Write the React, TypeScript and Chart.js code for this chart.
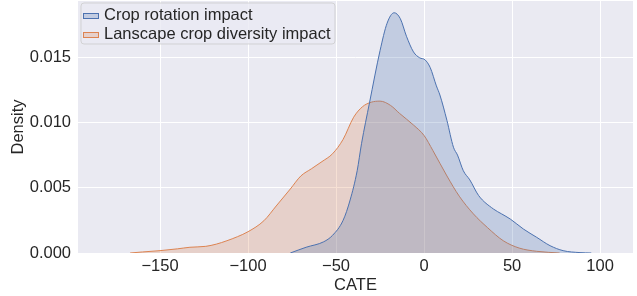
import React, { useEffect, useRef } from 'react';
import { Chart, registerables } from 'chart.js';

Chart.register(...registerables);

// Crop rotation impact (KDE density)
const rotationX = [-76, -67, -57, -52, -46, -42, -38, -35.5, -31, -25, -21, -17, -13.5, -10, -6, -2.5, 0.5, 3.5, 7, 9, 13, 16.7, 19, 22.3, 26, 31, 39.4, 44, 49, 56.4, 64, 71.6, 79, 88.6, 95];
const rotationY = [0, 0.00044, 0.00086, 0.00135, 0.0025, 0.00406, 0.0063, 0.0084, 0.0115, 0.0155, 0.0176, 0.0184, 0.01795, 0.0166, 0.0154, 0.01495, 0.0148, 0.0142, 0.0128, 0.0121, 0.01015, 0.0081, 0.0075, 0.0063, 0.0056, 0.0044, 0.00337, 0.003, 0.0026, 0.00184, 0.0012, 0.00056, 0.00018, 0.00003, 0];

// Lanscape crop diversity impact
const diversityX = [-167, -160, -150, -140, -133, -124, -118, -112, -106, -100, -91, -84, -76, -70, -64, -58, -52, -46, -40, -35, -30, -25, -19, -14, -6, 0, 5, 13, 20, 28, 36, 45, 54, 64, 77];
const diversityY = [0, 0.00008, 0.00018, 0.00032, 0.00044, 0.00051, 0.00068, 0.00094, 0.00125, 0.00163, 0.00247, 0.0036, 0.0049, 0.0059, 0.00645, 0.007, 0.0076, 0.0087, 0.0104, 0.0112, 0.01155, 0.01163, 0.0113, 0.0107, 0.0098, 0.009, 0.00785, 0.0059, 0.00435, 0.003, 0.00195, 0.00094, 0.00038, 0.00013, 0];

const seriesLabels = ['Crop rotation impact', 'Lanscape crop diversity impact'];
const xTicks = [-150, -100, -50, 0, 50, 100];
const yTicks = [0, 0.005, 0.01, 0.015];

const BLUE = '#4C72B0';
const ORANGE = '#DD8452';
const BLUE_FILL = 'rgba(76,114,176,0.25)';
const ORANGE_FILL = 'rgba(221,132,82,0.25)';
const TEXT = '#262626';
const FONT = "'Liberation Sans', Arial, sans-serif";
const FS = 16.5;

const bgPlugin = {
  id: 'plotBg',
  beforeDraw(chart: any) {
    const { ctx, chartArea } = chart;
    ctx.save();
    ctx.fillStyle = '#EAEAF2';
    ctx.fillRect(chartArea.left, chartArea.top, chartArea.right - chartArea.left, chartArea.bottom - chartArea.top);
    ctx.restore();
  },
};

const legendPlugin = {
  id: 'innerLegend',
  afterDraw(chart: any) {
    const { ctx, chartArea } = chart;
    const x0 = chartArea.left + 3;
    const y0 = chartArea.top + 2;
    const w = 254;
    const h = 41;
    const r = 3;
    ctx.save();
    ctx.beginPath();
    ctx.moveTo(x0 + r, y0);
    ctx.arcTo(x0 + w, y0, x0 + w, y0 + h, r);
    ctx.arcTo(x0 + w, y0 + h, x0, y0 + h, r);
    ctx.arcTo(x0, y0 + h, x0, y0, r);
    ctx.arcTo(x0, y0, x0 + w, y0, r);
    ctx.closePath();
    ctx.fillStyle = 'rgba(234,234,242,0.8)';
    ctx.fill();
    ctx.strokeStyle = 'rgba(204,204,204,0.8)';
    ctx.lineWidth = 1;
    ctx.stroke();
    const items = [
      { label: seriesLabels[0], fill: BLUE_FILL, stroke: BLUE },
      { label: seriesLabels[1], fill: ORANGE_FILL, stroke: ORANGE },
    ];
    items.forEach((it, i) => {
      const cy = y0 + 13 + i * 19;
      ctx.fillStyle = it.fill;
      ctx.fillRect(x0 + 2.5, cy - 2.5, 15, 5);
      ctx.strokeStyle = it.stroke;
      ctx.lineWidth = 1;
      ctx.strokeRect(x0 + 2.5, cy - 2.5, 15, 5);
      ctx.fillStyle = TEXT;
      ctx.font = `${FS}px ${FONT}`;
      ctx.textBaseline = 'alphabetic';
      ctx.textAlign = 'left';
      ctx.fillText(it.label, x0 + 23, y0 + 17 + i * 19);
    });
    ctx.restore();
  },
};

export default function App() {
  const ref = useRef<HTMLCanvasElement>(null);
  useEffect(() => {
    if (!ref.current) return;
    Chart.defaults.font.family = FONT;
    Chart.defaults.color = TEXT;
    const chart = new Chart(ref.current, {
      type: 'line',
      data: {
        datasets: [
          {
            label: seriesLabels[0],
            data: rotationX.map((x, i) => ({ x, y: rotationY[i] })),
            borderColor: BLUE,
            backgroundColor: BLUE_FILL,
            borderWidth: 1,
            fill: 'origin',
            pointRadius: 0,
            cubicInterpolationMode: 'monotone',
          },
          {
            label: seriesLabels[1],
            data: diversityX.map((x, i) => ({ x, y: diversityY[i] })),
            borderColor: ORANGE,
            backgroundColor: ORANGE_FILL,
            borderWidth: 1,
            fill: 'origin',
            pointRadius: 0,
            cubicInterpolationMode: 'monotone',
          },
        ],
      },
      options: {
        animation: false,
        responsive: false,
        devicePixelRatio: 1,
        layout: { padding: { left: 0, top: 1, right: 4, bottom: 0 } },
        plugins: { legend: { display: false }, tooltip: { enabled: false } },
        scales: {
          x: {
            type: 'linear',
            min: -196.6,
            max: 118.7,
            afterFit(scale: any) {
              scale.height = 43;
              scale.paddingLeft = 0;
              scale.paddingRight = 0;
            },
            afterBuildTicks(scale: any) { scale.ticks = xTicks.map((v) => ({ value: v })); },
            ticks: {
              padding: 4,
              font: { size: FS },
              color: TEXT,
              maxRotation: 0,
              autoSkip: false,
              callback: (v: any) => (Number(v) < 0 ? '\u2212' + Math.abs(Number(v)) : String(v)),
            },
            grid: { color: '#FFFFFF', lineWidth: 1, drawTicks: false },
            border: { display: false },
            title: { display: true, text: 'CATE', font: { size: FS }, color: TEXT, padding: { top: 0, bottom: 1 } },
          },
          y: {
            type: 'linear',
            min: 0,
            max: 0.0193,
            afterFit(scale: any) {
              scale.width = 78;
              scale.paddingTop = 0;
              scale.paddingBottom = 0;
            },
            afterBuildTicks(scale: any) { scale.ticks = yTicks.map((v) => ({ value: v })); },
            ticks: {
              padding: 7,
              font: { size: FS },
              color: TEXT,
              autoSkip: false,
              callback: (v: any) => Number(v).toFixed(3),
            },
            grid: { color: '#FFFFFF', lineWidth: 1, drawTicks: false },
            border: { display: false },
            title: { display: true, text: 'Density', font: { size: FS }, color: TEXT, padding: { top: 9, bottom: 0 } },
          },
        },
      },
      plugins: [bgPlugin, legendPlugin],
    } as any);
    return () => chart.destroy();
  }, []);
  return (
    <div style={{ position: 'fixed', left: 0, top: 0, width: 637, height: 296 }}>
      <canvas ref={ref} width={637} height={296} style={{ display: 'block' }} />
    </div>
  );
}
